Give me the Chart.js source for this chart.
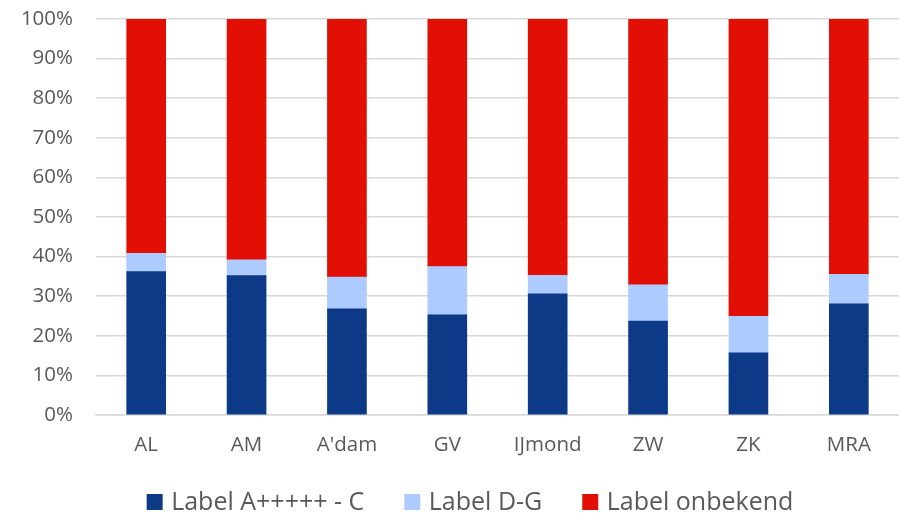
<!DOCTYPE html>
<html>
<head>
<meta charset="utf-8">
<script src="https://cdn.jsdelivr.net/npm/chart.js@4/dist/chart.umd.min.js"></script>
<style>
  html, body { margin: 0; padding: 0; background: #ffffff; }
  #wrap { width: 899px; height: 515px; position: relative; }
</style>
</head>
<body>
<div id="wrap"><canvas id="chart"></canvas></div>
<script>
// Regions along the x axis
const regions = ['AL', 'AM', "A'dam", 'GV', 'IJmond', 'ZW', 'ZK', 'MRA'];

// Share of dwellings per energy label group (%)
const labelAtoC = [36.2, 35.2, 26.8, 25.3, 30.6, 23.7, 15.7, 28.1];
const labelDtoG = [4.6, 4.0, 8.0, 12.2, 4.7, 9.2, 9.2, 7.4];
const labelUnknown = [59.2, 60.8, 65.2, 62.5, 64.7, 67.1, 75.1, 64.5];

const seriesNames = ['Label A+++++ - C', 'Label D-G', 'Label onbekend'];
const seriesColors = ['#0c3a87', '#adcbff', '#e20f05'];
const yTicks = [0, 10, 20, 30, 40, 50, 60, 70, 80, 90, 100];

const textColor = '#595959';
const gridColor = '#d9d9d9';
const fontFamily = '"Open Sans", Lato, sans-serif';

// Legend row under the plot: square swatch followed by the series name
const bottomLegend = {
  id: 'bottomLegend',
  afterDraw(chart) {
    const ctx = chart.ctx;
    const box = 16, gapText = 8.5, gapItem = 40, fontSize = 25;
    const centerX = 470, centerY = 502;
    ctx.save();
    ctx.font = fontSize + 'px ' + fontFamily;
    ctx.textBaseline = 'middle';
    ctx.textAlign = 'left';
    const items = chart.data.datasets.map(ds => ({
      text: ds.label,
      color: ds.backgroundColor,
      w: box + gapText + ctx.measureText(ds.label).width
    }));
    const total = items.reduce((s, it) => s + it.w, 0) + gapItem * (items.length - 1);
    let x = centerX - total / 2;
    items.forEach(it => {
      ctx.fillStyle = it.color;
      ctx.fillRect(x, centerY - box / 2, box, box);
      ctx.fillStyle = textColor;
      ctx.fillText(it.text, x + box + gapText, centerY + 1);
      x += it.w + gapItem;
    });
    ctx.restore();
  }
};

new Chart(document.getElementById('chart'), {
  type: 'bar',
  data: {
    labels: regions,
    datasets: [
      { label: seriesNames[0], data: labelAtoC, backgroundColor: seriesColors[0] },
      { label: seriesNames[1], data: labelDtoG, backgroundColor: seriesColors[1] },
      { label: seriesNames[2], data: labelUnknown, backgroundColor: seriesColors[2] }
    ]
  },
  plugins: [bottomLegend],
  options: {
    responsive: true,
    maintainAspectRatio: false,
    animation: false,
    layout: { padding: { top: 19, right: 0, bottom: 40, left: 0 } },
    datasets: { bar: { barThickness: 39, borderWidth: 0 } },
    plugins: {
      tooltip: { enabled: false },
      legend: { display: false }
    },
    scales: {
      x: {
        stacked: true,
        afterFit: (s) => { s.height = 60; },
        grid: { display: false, drawTicks: false },
        border: { color: gridColor, width: 1.5 },
        ticks: {
          color: textColor,
          font: { family: fontFamily, size: 20.5 },
          padding: 18,
          maxRotation: 0
        }
      },
      y: {
        stacked: true,
        min: 0,
        max: 100,
        afterFit: (s) => { s.width = 96; },
        afterBuildTicks: (s) => { s.ticks = yTicks.map(v => ({ value: v })); },
        grid: { color: gridColor, lineWidth: 1.5, drawTicks: true, tickLength: 23, tickColor: 'rgba(0,0,0,0)' },
        border: { display: false },
        ticks: {
          color: textColor,
          font: { family: fontFamily, size: 20.5 },
          padding: 0,
          callback: (v) => v + '%'
        }
      }
    }
  }
});
</script>
</body>
</html>
